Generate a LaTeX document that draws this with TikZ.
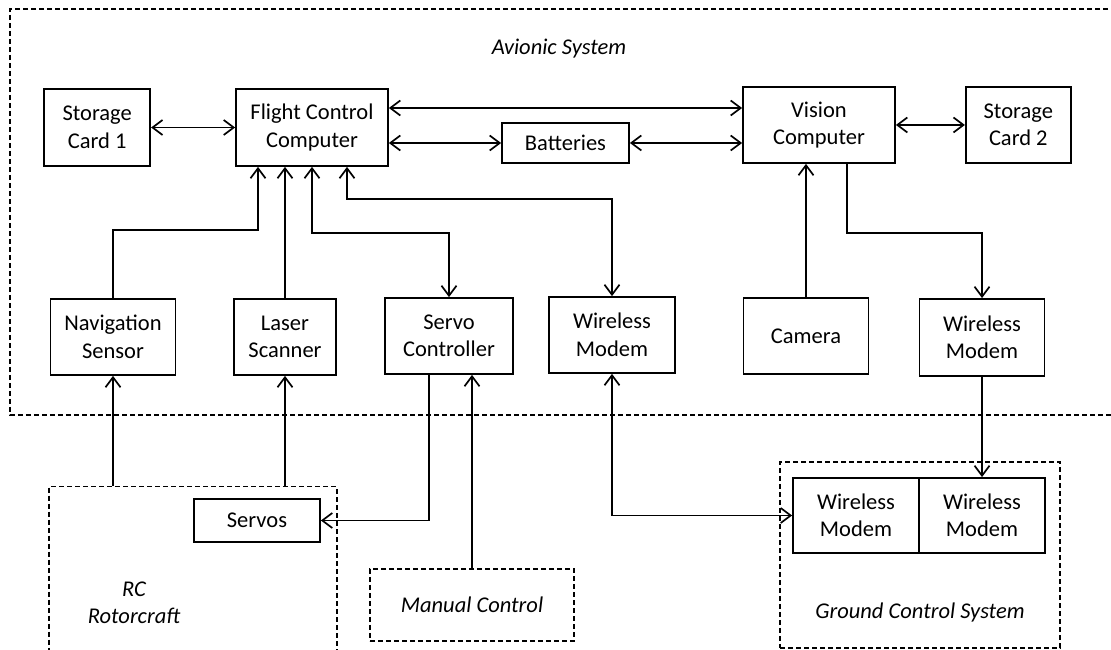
\documentclass[tikz,border=0pt]{standalone}
\usepackage{fontspec}
\setmainfont{Carlito}
\usetikzlibrary{arrows.meta,positioning}

\begin{document}
\begin{tikzpicture}[x=1pt,y=1pt,>={Straight Barb[length=10pt,width=15pt]},line width=1.7pt,
	blk/.style={draw=black,line width=1.8pt,rectangle,fill=white,align=center,inner sep=0pt,minimum height=76pt,font=\fontsize{22.5}{27.5}\selectfont},
	grp/.style={draw=black,line width=1.5pt,dash pattern=on 5pt off 3pt,rectangle,inner sep=0pt},
	lbl/.style={font=\fontsize{22.5}{27.5}\selectfont\itshape,align=center},
	link/.style={draw=black,line width=1.7pt}]
	\useasboundingbox (0,0) rectangle (1111,650);

	% groups
	\draw[grp] (1116,641) -| (10,235) -- (1116,235);
	\node[lbl]	(avtitle)	at (559,601)	{Avionic System};
	\node[grp,anchor=north west,minimum width=288pt,minimum height=175pt]	(rc)	at (48,164)	{};
	\node[lbl]	(rctitle)	at (134,47)		{RC\\Rotorcraft};
	\node[grp,minimum width=204pt,minimum height=72pt,lbl]	(man)	at (472,45)	{Manual Control};
	\node[grp,minimum width=280pt,minimum height=186pt]	(gcs)	at (920,95)	{};
	\node[lbl]	(gcstitle)	at (920,37)		{Ground Control System};

	% avionic system
	\node[blk,minimum width=152pt,minimum height=77pt]	(fcc)	at (312,522.5)			{Flight Control\\Computer};
	\node[blk,minimum width=106pt,minimum height=77pt]	(sc1)	[left=84pt of fcc]		{Storage\\Card 1};
	\node[blk,minimum width=152pt]						(vc)	at (819,525)			{Vision\\Computer};
	\node[blk,minimum width=105pt]						(sc2)	[right=69pt of vc]		{Storage\\Card 2};
	\node[blk,minimum width=127pt,minimum height=40pt]	(bat)	at (565.5,507)			{Batteries};
	\node[blk,minimum width=125pt]						(nav)	at (113,313)			{Navigation\\Sensor};
	\node[blk,minimum width=102pt]						(laser)	at (285,313)			{Laser\\Scanner};
	\node[blk,minimum width=128pt]						(servo)	at (449,314)			{Servo\\Controller};
	\node[blk,minimum width=126pt]						(wm1)	at (612,315)			{Wireless\\Modem};
	\node[blk,minimum width=125pt]						(cam)	at (806,314)			{Camera};
	\node[blk,minimum width=125pt,minimum height=77pt]	(wm2)	at (982,312.5)			{Wireless\\Modem};

	% outside
	\node[blk,minimum width=126pt,minimum height=43pt]	(servos)	at (257,129.5)		{Servos};
	\node[blk,minimum width=126pt,minimum height=75pt]	(gm1)	at (856,134.5)			{Wireless\\Modem};
	\node[blk,minimum width=126pt,minimum height=75pt]	(gm2)	[right=-1.8pt of gm1]	{Wireless\\Modem};

	\coordinate (fv) at ([yshift=19.5pt]fcc.east);

	\draw[link,<->] (sc1) -- (fcc);
	\draw[link,<->] (fv) -- (fv -| vc.west);
	\draw[link,<->] (bat.west) -- (bat.west -| fcc.east);
	\draw[link,<->] (bat.east) -- (bat.east -| vc.west);
	\draw[link,<->] (vc) -- (sc2);
	\draw[link,->] (laser.north) -- (laser.north |- fcc.south);
	\draw[link,->] (cam.north) -- (cam.north |- vc.south);
	\draw[link,->] (rc.north -| nav.south) -- (nav.south);
	\draw[link,->] (rc.north -| laser.south) -- (laser.south);
	\draw[link,->] (man.north) -- (man.north |- servo.south);
	\draw[link,->] (wm2.south) -- (wm2.south |- gm2.north);
	\draw[link,->] (nav.north) |- ([xshift=-54pt,yshift=-63pt]fcc.south) -- ([xshift=-54pt]fcc.south);
	\draw[link,<->] (fcc.south) -- ++(0,-66) -| (servo.north);
	\draw[link,<->] ([xshift=35pt]fcc.south) -- ++(0,-32) -| (wm1.north);
	\draw[link,->] ([xshift=28pt]vc.south) -- ++(0,-69) -| (wm2.north);
	\draw[link,->] ([xshift=-20pt]servo.south) |- (servos.east);
	\draw[link,<->] (wm1.south) |- (gm1.west);
\end{tikzpicture}
\end{document}
